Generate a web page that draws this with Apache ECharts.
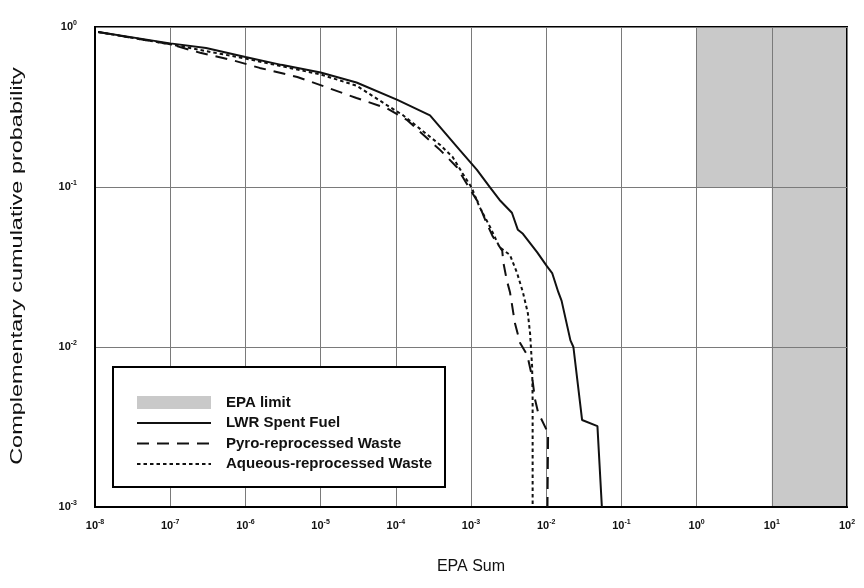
<!DOCTYPE html>
<html>
<head>
<meta charset="utf-8">
<script src="https://cdn.jsdelivr.net/npm/echarts@6/dist/echarts.min.js"></script>
<style>
  html, body { margin: 0; padding: 0; background: #fff; }
  #chart { width: 864px; height: 588px; }
</style>
</head>
<body>
<div id="chart"></div>
<script>
// Decade exponents shown on each axis
const xExponents = [-8, -7, -6, -5, -4, -3, -2, -1, 0, 1, 2];
const yExponents = [-3, -2, -1, 0];

// Series names
const seriesNames = ['EPA limit', 'LWR Spent Fuel', 'Pyro-reprocessed Waste', 'Aqueous-reprocessed Waste'];

// EPA limit regions: [xFrom, xTo, yFrom, yTo]
const epaXFrom = [1, 10];
const epaXTo = [100, 100];
const epaYFrom = [0.1, 0.001];
const epaYTo = [1, 0.1];

// LWR spent fuel CCDF
const lwrX = [1.1e-8, 1e-7, 3e-7, 1e-6, 3e-6, 1e-5, 3e-5, 1.05e-4, 2.85e-4, 7.1e-4, 1.2e-3, 1.8e-3, 2.4e-3, 3.5e-3, 4.2e-3, 4.9e-3, 7.6e-3, 1.02e-2, 1.2e-2, 1.45e-2, 1.6e-2, 2.1e-2, 2.3e-2, 3.0e-2, 4.8e-2, 5.5e-2];
const lwrY = [0.93, 0.79, 0.74, 0.65, 0.58, 0.52, 0.45, 0.35, 0.28, 0.17, 0.128, 0.099, 0.083, 0.069, 0.054, 0.051, 0.039, 0.032, 0.029, 0.022, 0.0195, 0.011, 0.010, 0.0035, 0.0032, 0.001];

// Pyro-reprocessed waste CCDF
const pyroX = [1.1e-8, 1e-7, 2.5e-7, 6.8e-7, 1.55e-6, 4.9e-6, 1.2e-5, 3.0e-5, 7.6e-5, 1.4e-4, 3.9e-4, 6.5e-4, 1.02e-3, 1.23e-3, 1.6e-3, 1.95e-3, 2.6e-3, 2.7e-3, 3.0e-3, 3.3e-3, 3.85e-3, 4.5e-3, 5.6e-3, 6.5e-3, 7.1e-3, 7.8e-3, 1.06e-2, 1.04e-2];
const pyroY = [0.93, 0.78, 0.69, 0.62, 0.555, 0.487, 0.42, 0.36, 0.31, 0.263, 0.17, 0.133, 0.093, 0.081, 0.06, 0.049, 0.04, 0.0335, 0.026, 0.022, 0.014, 0.0106, 0.0089, 0.0065, 0.0047, 0.0039, 0.0029, 0.001];

// Aqueous-reprocessed waste CCDF
const aqueousX = [1.1e-8, 1e-7, 1e-6, 1e-5, 3e-5, 7.6e-5, 1.26e-4, 3.9e-4, 5.7e-4, 7.7e-4, 1.02e-3, 1.3e-3, 1.8e-3, 2.4e-3, 3.3e-3, 4.1e-3, 4.9e-3, 5.7e-3, 6.1e-3, 6.5e-3, 6.6e-3, 6.6e-3];
const aqueousY = [0.93, 0.78, 0.635, 0.505, 0.43, 0.325, 0.28, 0.183, 0.154, 0.122, 0.099, 0.075, 0.056, 0.042, 0.0376, 0.029, 0.022, 0.0163, 0.0122, 0.0075, 0.0047, 0.001];

const pairs = (xs, ys) => xs.map((x, i) => [x, ys[i]]);
const epaData = epaXFrom.map((x, i) => [x, epaXTo[i], epaYFrom[i], epaYTo[i]]);

const FONT = '"Liberation Sans", Arial, Helvetica, sans-serif';
const INK = '#111';
const SHADE = '#c9c9c9';

const powerLabel = {
  color: INK,
  fontFamily: FONT,
  formatter: v => '{b|10}{s|' + Math.round(Math.log10(v)) + '}',
  rich: {
    b: { fontSize: 11, fontWeight: 'bold', fontFamily: FONT, color: INK, lineHeight: 14 },
    s: { fontSize: 7, fontWeight: 'bold', fontFamily: FONT, color: INK, lineHeight: 8, verticalAlign: 'top' }
  }
};

// line legend entries: keep only the stroke, hide the marker dot
const lineOnly = { color: 'rgba(0,0,0,0)', borderWidth: 0, opacity: 0 };

const chart = echarts.init(document.getElementById('chart'), null, { renderer: 'canvas' });

chart.setOption({
  animation: false,
  backgroundColor: '#fff',
  grid: {
    left: 95, right: 17, top: 27, bottom: 81,
    show: true, borderColor: '#000', borderWidth: 2, backgroundColor: 'transparent'
  },
  xAxis: {
    type: 'log', logBase: 10,
    min: Math.pow(10, xExponents[0]), max: Math.pow(10, xExponents[xExponents.length - 1]),
    interval: 1,
    splitNumber: xExponents.length - 1,
    name: 'EPA Sum', nameLocation: 'middle', nameGap: 52,
    nameTextStyle: { fontSize: 16, fontFamily: FONT, color: INK },
    axisLine: { show: true, lineStyle: { color: '#000', width: 2 } },
    axisTick: { show: false },
    minorTick: { show: false },
    axisLabel: Object.assign({ margin: 12, hideOverlap: false, showMinLabel: true, showMaxLabel: true }, powerLabel),
    splitLine: { show: true, lineStyle: { color: '#7a7a7a', width: 1 } }
  },
  yAxis: {
    type: 'log', logBase: 10,
    min: Math.pow(10, yExponents[0]), max: Math.pow(10, yExponents[yExponents.length - 1]),
    interval: 1,
    splitNumber: yExponents.length - 1,
    axisLine: { show: true, lineStyle: { color: '#000', width: 2 } },
    axisTick: { show: false },
    minorTick: { show: false },
    axisLabel: Object.assign({ margin: 18 }, powerLabel),
    splitLine: { show: true, lineStyle: { color: '#7a7a7a', width: 1 } }
  },
  legend: {
    orient: 'vertical',
    left: 136, top: 395,
    padding: 0,
    itemWidth: 74, itemHeight: 13, itemGap: 5.5,
    selectedMode: false,
    z: 20,
    textStyle: { fontSize: 15, fontWeight: 'bold', fontFamily: FONT, color: INK, padding: [0, 0, 0, 10] },
    data: [
      { name: seriesNames[0], icon: 'rect', itemStyle: { color: SHADE } },
      { name: seriesNames[1], itemStyle: lineOnly },
      { name: seriesNames[2], itemStyle: lineOnly },
      { name: seriesNames[3], itemStyle: lineOnly }
    ]
  },
  graphic: [
    {
      type: 'rect', z: 10,
      shape: { x: 113, y: 367, width: 332, height: 120 },
      style: { fill: '#fff', stroke: '#000', lineWidth: 2 }
    },
    {
      type: 'text', z: 10,
      x: 17, y: 266, rotation: Math.PI / 2, scaleX: 1.38,
      style: {
        text: 'Complementary cumulative probability',
        font: '17px ' + FONT, fill: INK,
        align: 'center', verticalAlign: 'middle'
      }
    }
  ],
  series: [
    {
      name: seriesNames[0],
      type: 'custom',
      z: -1,
      itemStyle: { color: SHADE },
      data: epaData,
      renderItem: (params, api) => {
        const p0 = api.coord([api.value(0), api.value(3)]);
        const p1 = api.coord([api.value(1), api.value(2)]);
        return {
          type: 'rect',
          shape: { x: p0[0], y: p0[1], width: p1[0] - p0[0], height: p1[1] - p0[1] },
          style: { fill: SHADE }
        };
      },
      encode: { x: [0, 1], y: [2, 3] }
    },
    {
      name: seriesNames[1],
      type: 'line', symbol: 'none', showSymbol: false,
      lineStyle: { color: INK, width: 2, type: 'solid' },
      itemStyle: { color: INK },
      data: pairs(lwrX, lwrY)
    },
    {
      name: seriesNames[2],
      type: 'line', symbol: 'none', showSymbol: false,
      lineStyle: { color: INK, width: 2, type: [12, 8] },
      itemStyle: { color: INK },
      data: pairs(pyroX, pyroY)
    },
    {
      name: seriesNames[3],
      type: 'line', symbol: 'none', showSymbol: false,
      lineStyle: { color: INK, width: 2, type: [3.5, 3] },
      itemStyle: { color: INK },
      data: pairs(aqueousX, aqueousY)
    }
  ]
});
</script>
</body>
</html>
